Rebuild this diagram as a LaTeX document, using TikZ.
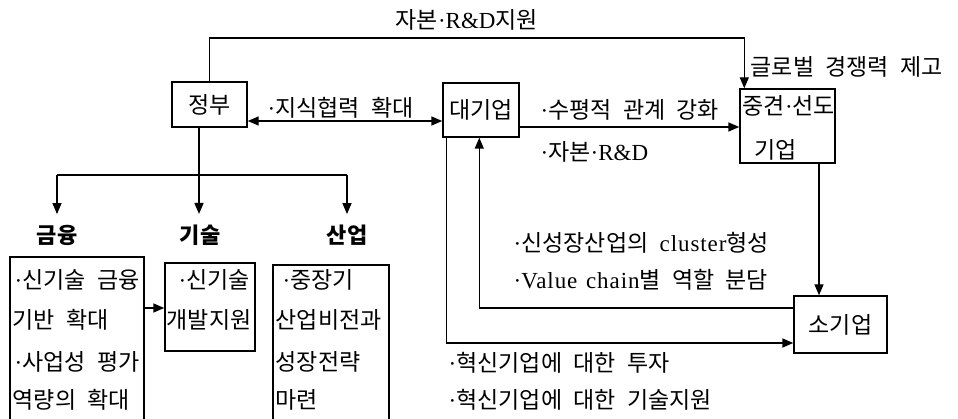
\documentclass[tikz,border=0pt]{standalone}
\usepackage{fontspec}
\setmainfont[WordSpace=2.2]{Noto Sans CJK KR}
\newfontfamily\lat[LetterSpace=4,WordSpace=1.3]{Liberation Serif}
\newfontfamily\latn{Liberation Serif}
\newcommand{\md}{{\latn\char"00B7}}
\usetikzlibrary{arrows.meta,calc}
\begin{document}
\begin{tikzpicture}[x=1pt,y=-1pt,
  line width=1.4pt,
  tip/.tip={Triangle[length=11pt,width=9pt]},
  arr/.style={-tip},
  darr/.style={tip-tip},
  box/.style={draw, rectangle, inner sep=0pt, font=\fontsize{23}{23}\selectfont},
  txt/.style={inner sep=0pt, anchor=west, font=\fontsize{23}{23}\selectfont},
  lbl/.style={inner sep=0pt, anchor=center, font=\fontsize{22}{22}\selectfont\bfseries},
]
\useasboundingbox (0,0) rectangle (958,419);
\clip (0,0) rectangle (958,419);

% boxes
\node[box, minimum width=75pt, minimum height=45pt] (gov) at (209.5,104.5) {정부};
\node[box, minimum width=76pt, minimum height=54pt] (big) at (481,110) {대기업};
\node[box, minimum width=95pt, minimum height=74pt] (mid) at (787.5,126) {};
\node[box, minimum width=93pt, minimum height=57pt] (small) at (840.5,324.5) {소기업};
\node[box, minimum width=134pt, minimum height=183pt] (fin) at (77,348.5) {};
\node[box, minimum width=90pt, minimum height=88pt] (tech) at (210,307) {};
\node[box, minimum width=116pt, minimum height=175pt] (ind) at (331,352.5) {};

% texts in mid box
\node[txt] (midt1) at (742,106) {중견\md 선도};
\node[txt] (midt2) at (754,150) {기업};

% category labels
\node[lbl] (finl) at (57,235) {금융};
\node[lbl] (techl) at (200,235) {기술};
\node[lbl] (indl) at (347,235) {산업};

% box texts
\node[txt] (f1) at (14,280) {\md 신기술 금융};
\node[txt] (f2) at (12,320) {기반 확대};
\node[txt] (f3) at (14,362) {\md 사업성 평가};
\node[txt] (f4) at (12,400) {역량의 확대};
\node[txt] (t1) at (178,280) {\md 신기술};
\node[txt] (t2) at (166,320) {개발지원};
\node[txt] (i1) at (282,280) {\md 중장기};
\node[txt] (i2) at (275,320) {산업비전과};
\node[txt] (i3) at (275,362) {성장전략};
\node[txt] (i4) at (275,400) {마련};

% connector labels
\node[txt] (lt) at (395,20) {자본\md{\latn R\&D}지원};
\node[txt] (lk) at (267,108) {\md 지식협력 확대};
\node[txt] (lg) at (750,67) {글로벌 경쟁력 제고};
\node[txt] (lh1) at (540,110) {\md 수평적 관계 강화};
\node[txt] (lh2) at (540,152) {\md 자본\md{\latn R\&D}};
\node[txt] (lc1) at (513,243) {\md 신성장산업의 {\lat cluster}형성};
\node[txt] (lc2) at (513,280) {\md{\lat Value chain}별 역할 분담};
\node[txt] (li1) at (448,363) {\md 혁신기업에 대한 투자};
\node[txt] (li2) at (448,400) {\md 혁신기업에 대한 기술지원};

% connectors
\draw[arr] (gov.north) -- (gov.north |- 0,38) -| ([xshift=5pt]mid.north west);
\draw[darr] (gov.east |- 0,121) -- (big.west |- 0,121);
\coordinate (br) at (199,175);
\draw (gov.south -| br) -- (br);
\draw (finl |- br) -- (indl |- br);
\draw[arr] (finl |- br) -- ([yshift=10pt]finl.north);
\draw[arr] (br) -- ([yshift=10pt]techl.north -| br);
\draw[arr] (indl |- br) -- ([yshift=10pt]indl.north);
\draw[arr] (fin.east |- 0,308) -- (tech.west |- 0,308);
\draw[arr] (big.east |- 0,127) -- (mid.west |- 0,127);
\draw[arr] ([xshift=4pt]big.south west) |- (small.west |- 0,343);
\draw[arr] (small.west |- 0,308) -| ([xshift=37pt]big.south west);
\draw[arr] (mid.south -| 819,0) -- (small.north -| 819,0);
\end{tikzpicture}
\end{document}
